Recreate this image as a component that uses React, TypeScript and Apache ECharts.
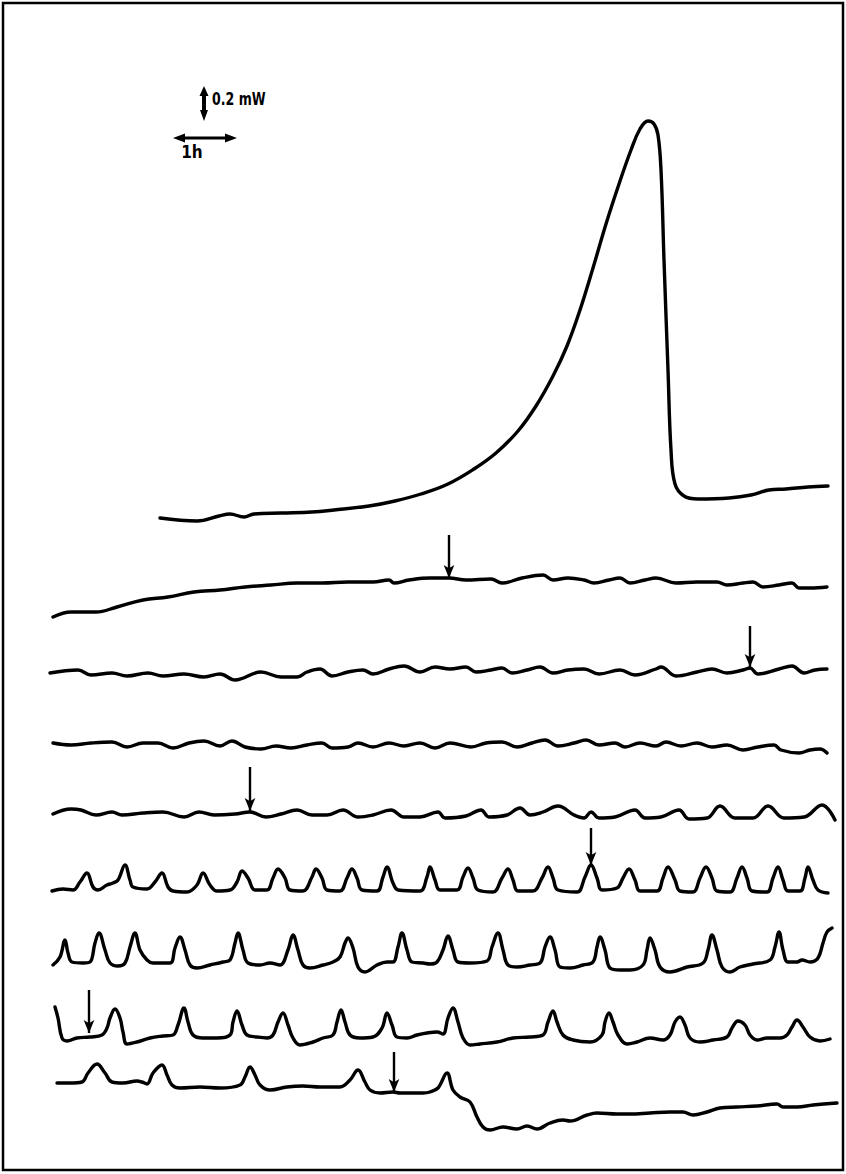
import React, { useEffect, useRef } from "react";
import * as echarts from "echarts";

// Each trace: [time position, signal position] pairs
const trace1: number[][] = [[160,518],[197,521],[219,516],[230,514],[244,517],[254,514],[281,513],[312,512],[334,510],[369,506],[395,501],[421,494],[448,484],[474,469],[496,453],[518,431],[536,406],[553,376],[567,346],[580,310],[593,268],[606,224],[619,184],[631,150],[640,129],[648,121],[654,124],[658,135],[661,170],[664,260],[668,370],[671,450],[675,484],[684,496],[698,499],[729,498],[751,495],[769,490],[786,489],[808,487],[828,486]];
const trace2: number[][] = [[53,617],[71,612],[96,612],[117,607],[143,600],[168,597],[194,592],[220,590],[245,587],[271,585],[297,583],[322,583],[348,582],[373,582],[389,580],[394,583],[409,580],[430,578],[449,578],[466,580],[491,579],[502,583],[522,578],[543,575],[553,580],[568,578],[584,580],[594,583],[609,580],[620,578],[630,583],[645,580],[656,578],[676,583],[697,582],[717,582],[727,585],[743,583],[753,582],[763,587],[779,585],[792,583],[799,588],[810,588],[827,587]];
const trace3: number[][] = [[50,673],[78,670],[91,675],[112,673],[127,676],[148,673],[163,676],[184,674],[204,677],[220,674],[235,680],[261,672],[281,677],[297,677],[307,672],[320,669],[332,676],[348,672],[363,670],[373,674],[389,669],[404,666],[420,672],[435,667],[450,669],[466,667],[476,672],[491,670],[502,668],[512,673],[527,670],[540,667],[553,673],[568,670],[584,669],[599,674],[620,670],[635,675],[656,669],[661,667],[676,676],[697,672],[712,669],[727,673],[743,670],[750,668],[758,674],[779,669],[792,666],[804,673],[815,670],[827,669]];
const trace4: number[][] = [[53,743],[71,745],[91,743],[112,742],[127,747],[143,743],[158,743],[173,748],[189,743],[204,741],[220,746],[232,741],[245,747],[261,749],[276,746],[291,748],[307,745],[322,743],[332,748],[348,747],[358,743],[373,747],[389,743],[404,746],[420,743],[435,748],[450,743],[471,747],[486,743],[502,742],[517,747],[532,743],[545,740],[558,746],[574,743],[586,740],[599,745],[615,743],[625,747],[640,743],[656,746],[666,742],[681,746],[697,743],[712,747],[727,745],[743,750],[758,747],[774,745],[781,750],[799,753],[810,750],[820,749],[827,753]];
const trace5: number[][] = [[53,814],[71,809],[81,810],[96,815],[112,812],[122,815],[143,813],[163,812],[184,817],[199,812],[214,815],[235,814],[250,812],[266,817],[281,814],[297,810],[312,815],[327,815],[343,810],[358,817],[373,815],[391,810],[404,817],[420,817],[438,812],[445,818],[466,816],[481,810],[489,817],[507,815],[520,808],[530,815],[543,812],[558,806],[574,815],[584,818],[591,812],[599,818],[615,817],[635,810],[645,818],[661,817],[679,810],[689,819],[707,818],[720,806],[735,818],[753,818],[768,806],[784,818],[804,817],[822,805],[835,820]];
const trace6: number[][] = [[52,891],[63,889],[73,890],[80,882],[87,873],[93,887],[98,890],[107,885],[113,883],[118,880],[125,865],[130,880],[133,887],[147,889],[155,882],[162,873],[168,887],[173,891],[187,892],[197,885],[203,873],[210,885],[217,891],[230,890],[237,882],[242,871],[248,878],[255,890],[267,890],[273,878],[278,869],[285,878],[290,890],[303,891],[312,877],[316,869],[322,878],[327,890],[340,891],[347,878],[352,869],[357,878],[362,890],[377,891],[383,877],[387,867],[393,883],[398,890],[420,891],[427,877],[430,867],[435,880],[440,890],[457,890],[463,877],[468,868],[473,878],[478,890],[493,892],[502,878],[508,869],[513,880],[518,891],[533,891],[542,878],[548,867],[553,878],[558,890],[577,892],[585,877],[591,865],[597,878],[602,890],[617,888],[623,878],[629,869],[635,880],[640,891],[657,891],[663,878],[668,867],[675,880],[680,891],[693,892],[700,878],[706,867],[712,878],[717,891],[730,892],[737,878],[742,867],[747,878],[752,891],[767,892],[773,878],[778,867],[783,880],[788,891],[800,891],[805,878],[808,867],[813,880],[818,890],[828,893]];
const trace7: number[][] = [[53,965],[60,957],[65,940],[68,953],[72,962],[83,963],[90,962],[95,943],[99,933],[105,950],[110,963],[118,966],[125,963],[130,947],[135,933],[140,950],[147,960],[153,963],[170,963],[175,948],[180,937],[185,950],[190,965],[197,968],[210,965],[223,962],[230,960],[235,943],[238,933],[243,950],[248,963],[260,965],[270,963],[280,965],[288,950],[293,935],[298,950],[303,965],[310,968],[323,965],[333,962],[340,957],[345,943],[348,938],[353,948],[358,967],[365,972],[377,965],[387,962],[393,962],[398,947],[402,933],[407,950],[412,962],[423,963],[430,964],[437,962],[443,950],[448,936],[453,950],[458,962],[470,963],[487,961],[492,947],[498,933],[503,950],[508,965],[517,967],[530,965],[540,963],[545,947],[550,937],[555,950],[560,967],[570,968],[583,965],[593,962],[597,947],[600,937],[605,950],[610,968],[620,970],[630,970],[643,965],[647,950],[650,938],[655,950],[660,967],[670,972],[687,967],[703,963],[708,950],[712,935],[717,950],[722,967],[730,972],[740,967],[753,964],[770,960],[775,947],[779,932],[783,950],[788,962],[797,962],[802,960],[810,962],[818,958],[823,943],[827,932],[832,928]];
const trace8: number[][] = [[55,1007],[58,1018],[62,1038],[67,1041],[77,1038],[90,1037],[102,1035],[107,1028],[110,1018],[115,1009],[120,1018],[123,1032],[127,1044],[137,1042],[150,1038],[163,1036],[173,1035],[178,1025],[184,1008],[188,1022],[193,1035],[203,1038],[217,1038],[230,1035],[233,1022],[237,1011],[242,1025],[247,1035],[257,1037],[267,1038],[273,1035],[278,1022],[283,1013],[288,1025],[293,1038],[300,1045],[313,1042],[323,1038],[333,1035],[337,1022],[341,1010],[345,1022],[350,1035],[360,1038],[373,1037],[382,1028],[387,1013],[392,1025],[397,1037],[407,1038],[417,1035],[427,1033],[437,1032],[443,1034],[448,1018],[453,1008],[458,1022],[463,1038],[470,1045],[480,1044],[497,1042],[513,1038],[530,1037],[543,1035],[548,1022],[553,1011],[557,1022],[563,1035],[573,1040],[590,1042],[602,1035],[605,1022],[609,1013],[613,1022],[618,1035],[627,1044],[637,1042],[650,1038],[663,1040],[670,1035],[675,1022],[680,1017],[685,1025],[690,1038],[700,1042],[713,1040],[727,1037],[732,1028],[738,1021],[745,1025],[750,1035],[757,1040],[767,1038],[780,1038],[787,1035],[792,1027],[797,1020],[803,1027],[810,1037],[820,1041],[830,1039]];
const trace9: number[][] = [[57,1083],[70,1083],[82,1082],[88,1073],[97,1064],[105,1073],[112,1082],[123,1083],[137,1081],[142,1082],[147,1084],[153,1073],[162,1065],[167,1075],[172,1085],[180,1088],[200,1087],[220,1088],[240,1085],[245,1077],[250,1067],[255,1075],[260,1085],[270,1090],[287,1087],[303,1086],[320,1087],[340,1087],[350,1080],[358,1070],[365,1082],[370,1090],[380,1093],[393,1092],[400,1093],[423,1093],[430,1092],[438,1088],[447,1073],[453,1090],[460,1097],[470,1102],[477,1117],[483,1127],[490,1130],[503,1127],[517,1129],[527,1126],[537,1129],[550,1123],[563,1120],[570,1121],[587,1115],[597,1113],[617,1114],[630,1114],[650,1113],[670,1112],[683,1112],[693,1115],[707,1112],[720,1108],[737,1107],[757,1106],[777,1104],[783,1107],[797,1107],[813,1105],[837,1103]];

// Addition markers (arrows): [time position, top, tip]
const markers: Array<{ trace: number; at: number[] }> = [
  { trace: 2, at: [449, 535, 578] },
  { trace: 3, at: [750, 626, 667] },
  { trace: 5, at: [250, 767, 811] },
  { trace: 6, at: [591, 828, 865] },
  { trace: 8, at: [89, 990, 1033] },
  { trace: 9, at: [394, 1052, 1092] },
];

const traces = [trace1, trace2, trace3, trace4, trace5, trace6, trace7, trace8, trace9];
const scaleLabels = ["0.2 mW", "1h"];

export default function App() {
  const ref = useRef<HTMLDivElement>(null);
  useEffect(() => {
    if (!ref.current) return;
    const chart = echarts.init(ref.current, undefined, { renderer: "svg" });
    const series: any[] = traces.map((d, i) => {
      const ms = markers.filter((m) => m.trace === i + 1);
      return {
        type: "line",
        data: d,
        showSymbol: false,
        symbol: "none",
        smooth: 0.4,
        clip: false,
        silent: true,
        lineStyle: { color: "#000", width: 3.4, cap: "round", join: "round" },
        markLine: ms.length
          ? {
              silent: true,
              symbol: ["none", "arrow"],
              symbolSize: [8, 13],
              label: { show: false },
              lineStyle: { color: "#000", width: 2.4, type: "solid" },
              data: ms.map((m) => [
                { coord: [m.at[0], m.at[1]] },
                { coord: [m.at[0], m.at[2]] },
              ]),
            }
          : undefined,
      };
    });
    const font = "'DejaVu Sans', sans-serif";
    chart.setOption({
      animation: false,
      backgroundColor: "#fff",
      grid: { left: 0, right: 0, top: 0, bottom: 0 },
      xAxis: { type: "value", min: 0, max: 846, show: false },
      yAxis: { type: "value", min: 0, max: 1174, inverse: true, show: false },
      series,
      graphic: [
        { type: "rect", shape: { x: 3, y: 3, width: 840, height: 1167 }, style: { fill: "none", stroke: "#000", lineWidth: 2.5 } },
        // vertical scale arrow
        { type: "line", shape: { x1: 204, y1: 92, x2: 204, y2: 116 }, style: { stroke: "#000", lineWidth: 4 } },
        { type: "polygon", shape: { points: [[199.5, 96], [204, 86], [208.5, 96]] }, style: { fill: "#000" } },
        { type: "polygon", shape: { points: [[200, 110], [204, 121], [208, 110]] }, style: { fill: "#000" } },
        { type: "text", x: 212, y: 99, scaleX: 0.74, style: { text: scaleLabels[0], font: "bold 17px " + font, fill: "#000", verticalAlign: "middle" } },
        // horizontal scale arrow
        { type: "line", shape: { x1: 182, y1: 138, x2: 228, y2: 138 }, style: { stroke: "#000", lineWidth: 3 } },
        { type: "polygon", shape: { points: [[185, 133.5], [173, 138], [185, 142.5]] }, style: { fill: "#000" } },
        { type: "polygon", shape: { points: [[225, 133.5], [237, 138], [225, 142.5]] }, style: { fill: "#000" } },
        { type: "text", x: 192, y: 152, scaleX: 0.85, style: { text: scaleLabels[1], font: "bold 18px " + font, fill: "#000", align: "center", verticalAlign: "middle" } },
      ],
    });
    return () => chart.dispose();
  }, []);
  return <div ref={ref} style={{ position: "absolute", left: 0, top: 0, width: 846, height: 1174 }} />;
}
